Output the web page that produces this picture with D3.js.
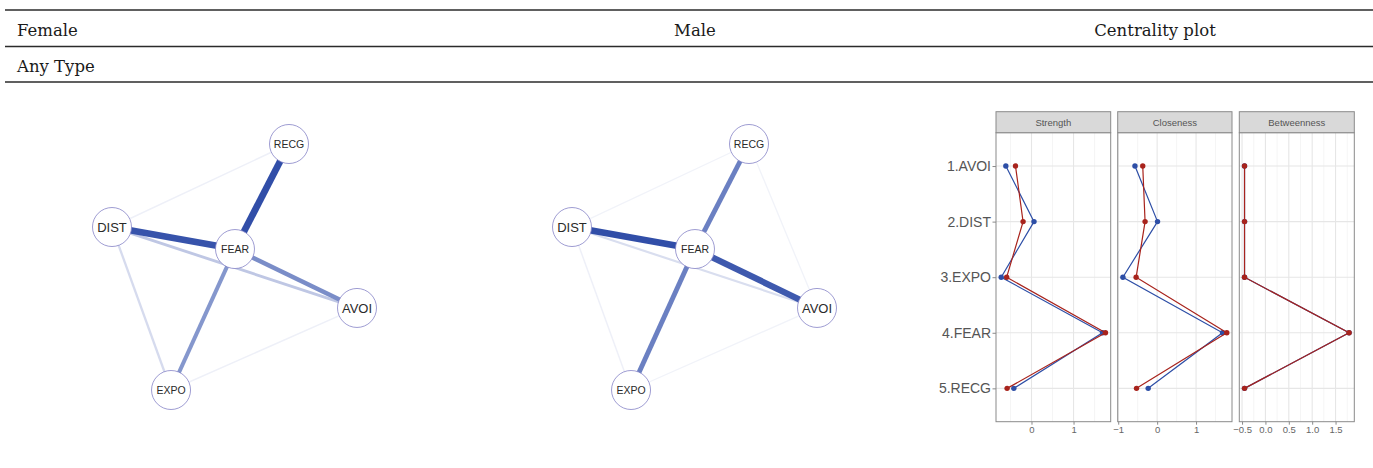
<!DOCTYPE html>
<html>
<head>
<meta charset="utf-8">
<script src="https://cdn.jsdelivr.net/npm/d3@7/dist/d3.min.js"></script>
<style>
  html, body { margin: 0; padding: 0; background: #fff; }
  svg { display: block; }
</style>
</head>
<body>
<svg id="chart" width="1373" height="468"></svg>
<script>
// ---------------- DATA ----------------
const headerColumns = ["Female", "Male", "Centrality plot"];
const rowLabel = "Any Type";

const nodes = ["RECG", "DIST", "FEAR", "AVOI", "EXPO"];
// edges: [from, to, weight 0..1]
const edgesFemale = [
  ["DIST", "RECG", 0.06],
  ["EXPO", "AVOI", 0.06],
  ["DIST", "EXPO", 0.2],
  ["DIST", "AVOI", 0.3],
  ["FEAR", "EXPO", 0.5],
  ["FEAR", "AVOI", 0.56],
  ["DIST", "FEAR", 0.92],
  ["FEAR", "RECG", 0.95]
];
const edgesMale = [
  ["DIST", "RECG", 0.04],
  ["RECG", "AVOI", 0.04],
  ["EXPO", "AVOI", 0.04],
  ["DIST", "EXPO", 0.06],
  ["DIST", "AVOI", 0.18],
  ["FEAR", "RECG", 0.64],
  ["FEAR", "EXPO", 0.64],
  ["FEAR", "AVOI", 0.88],
  ["DIST", "FEAR", 0.95]
];

const centralityNodes = ["1.AVOI", "2.DIST", "3.EXPO", "4.FEAR", "5.RECG"];
const measures = ["Strength", "Closeness", "Betweenness"];
const seriesNames = ["Female", "Male"];
// values per node (order of centralityNodes)
const strengthFemale    = [-0.61, 0.06, -0.72, 1.69, -0.42];
const strengthMale      = [-0.38, -0.20, -0.59, 1.76, -0.58];
const closenessFemale   = [-0.57, 0.01, -0.88, 1.68, -0.23];
const closenessMale     = [-0.37, -0.31, -0.54, 1.79, -0.53];
const betweennessFemale = [-0.447, -0.447, -0.447, 1.789, -0.447];
const betweennessMale   = [-0.447, -0.447, -0.447, 1.789, -0.447];

const xTicks = {
  Strength: [0, 1],
  Closeness: [-1, 0, 1],
  Betweenness: [-0.5, 0, 0.5, 1, 1.5]
};
const xMinorTicks = {
  Strength: [-0.5, 0.5, 1.5],
  Closeness: [-0.5, 0.5, 1.5],
  Betweenness: [-0.25, 0.25, 0.75, 1.25, 1.75]
};

// ---------------- LAYOUT / STYLE ----------------
// normalized node layout (qgraph style, -1..1)
const nodeLayout = {
  RECG: [0.445, 1.0],
  DIST: [-1.0, 0.325],
  FEAR: [0.004, 0.146],
  AVOI: [1.0, -0.333],
  EXPO: [-0.518, -1.0]
};
const nodeLabelSize = { RECG: 10.5, DIST: 13, FEAR: 10.5, AVOI: 13, EXPO: 10.5 };

const svg = d3.select("#chart");
const headFont = "'DejaVu Serif', serif";
const sansFont = "'Liberation Sans', Arial, sans-serif";

// ---------- header table ----------
[10, 46.5, 82].forEach(y => {
  svg.append("line").attr("x1", 5).attr("x2", 1373).attr("y1", y).attr("y2", y)
    .attr("stroke", "#2b2b2b").attr("stroke-width", 1.3);
});
const headerX = [17, 695, 1155];
const headerAnchor = ["start", "middle", "middle"];
headerColumns.forEach((t, i) => {
  svg.append("text").attr("x", headerX[i]).attr("y", 36)
    .attr("text-anchor", headerAnchor[i])
    .attr("font-family", headFont)
    .attr("font-size", 16.5).attr("fill", "#1a1a1a").text(t);
});
svg.append("text").attr("x", 17).attr("y", 71.5)
  .attr("font-family", headFont)
  .attr("font-size", 16.5).attr("fill", "#1a1a1a").text(rowLabel);

// ---------- networks ----------
const widthScale = d3.scaleLinear().domain([0, 1]).range([1.1, 7]);
const colorScale = d3.scaleLinear().domain([0, 0.25, 0.5, 1])
  .range(["#f8f9fc", "#cdd3ea", "#8597cd", "#2846a4"]);

function drawNetwork(edges, x0, x1, y0, y1) {
  const xs = d3.scaleLinear().domain([-1, 1]).range([x0, x1]);
  const ys = d3.scaleLinear().domain([-1, 1]).range([y1, y0]);
  const g = svg.append("g");
  const sorted = edges.slice().sort((a, b) => a[2] - b[2]);
  g.selectAll("line.edge").data(sorted).join("line")
    .attr("class", "edge")
    .attr("x1", d => xs(nodeLayout[d[0]][0]))
    .attr("y1", d => ys(nodeLayout[d[0]][1]))
    .attr("x2", d => xs(nodeLayout[d[1]][0]))
    .attr("y2", d => ys(nodeLayout[d[1]][1]))
    .attr("stroke", d => colorScale(d[2]))
    .attr("stroke-width", d => widthScale(d[2]))
    .attr("stroke-linecap", "butt");
  const ng = g.selectAll("g.node").data(nodes).join("g")
    .attr("transform", d => `translate(${xs(nodeLayout[d][0])},${ys(nodeLayout[d][1])})`);
  ng.append("circle").attr("r", 19.5).attr("fill", "#fff")
    .attr("stroke", "#8583c6").attr("stroke-width", 0.8);
  ng.append("text").attr("text-anchor", "middle").attr("dy", "0.36em")
    .attr("font-family", sansFont).attr("font-size", d => nodeLabelSize[d])
    .attr("fill", "#2a2a2a").text(d => d);
}
drawNetwork(edgesFemale, 112, 357, 144, 390);
drawNetwork(edgesMale, 572, 817, 144, 390);

// ---------- centrality plot ----------
const panelX = { Strength: [996, 1110.7], Closeness: [1117.7, 1232], Betweenness: [1239.3, 1354.3] };
const stripTop = 111.7, panelTop = 132.7, panelBottom = 421.7;
const seriesColors = ["#2d4ea6", "#a8231c"];
const dataByMeasure = {
  Strength: [strengthFemale, strengthMale],
  Closeness: [closenessFemale, closenessMale],
  Betweenness: [betweennessFemale, betweennessMale]
};
const yScale = d3.scalePoint().domain(centralityNodes)
  .range([panelTop, panelBottom]).padding(0.6);

measures.forEach(m => {
  const [px0, px1] = panelX[m];
  const all = dataByMeasure[m].flat();
  const mn = d3.min(all), mx = d3.max(all), pad = (mx - mn) * 0.05;
  const xs = d3.scaleLinear().domain([mn - pad, mx + pad]).range([px0, px1]);
  const g = svg.append("g");
  // minor grid
  g.selectAll("line.minor").data(xMinorTicks[m]).join("line")
    .attr("x1", d => xs(d)).attr("x2", d => xs(d))
    .attr("y1", panelTop).attr("y2", panelBottom)
    .attr("stroke", "#f2f2f2").attr("stroke-width", 0.8);
  // major grid
  g.selectAll("line.major").data(xTicks[m]).join("line")
    .attr("x1", d => xs(d)).attr("x2", d => xs(d))
    .attr("y1", panelTop).attr("y2", panelBottom)
    .attr("stroke", "#e6e6e6").attr("stroke-width", 1.1);
  g.selectAll("line.hgrid").data(centralityNodes).join("line")
    .attr("x1", px0).attr("x2", px1)
    .attr("y1", d => yScale(d)).attr("y2", d => yScale(d))
    .attr("stroke", "#e6e6e6").attr("stroke-width", 1.1);
  // series
  dataByMeasure[m].forEach((vals, si) => {
    const pts = vals.map((v, i) => [xs(v), yScale(centralityNodes[i])]);
    g.append("path").attr("d", d3.line()(pts)).attr("fill", "none")
      .attr("stroke", seriesColors[si]).attr("stroke-width", 1.2);
    g.selectAll(null).data(pts).join("circle")
      .attr("cx", d => d[0]).attr("cy", d => d[1]).attr("r", 2.7)
      .attr("fill", seriesColors[si]);
  });
  // panel border
  g.append("rect").attr("x", px0).attr("y", panelTop)
    .attr("width", px1 - px0).attr("height", panelBottom - panelTop)
    .attr("fill", "none").attr("stroke", "#8a8a8a").attr("stroke-width", 1);
  // strip
  g.append("rect").attr("x", px0).attr("y", stripTop)
    .attr("width", px1 - px0).attr("height", panelTop - stripTop)
    .attr("fill", "#d9d9d9").attr("stroke", "#8a8a8a").attr("stroke-width", 1);
  g.append("text").attr("x", (px0 + px1) / 2).attr("y", (stripTop + panelTop) / 2)
    .attr("dy", "0.35em").attr("text-anchor", "middle")
    .attr("font-family", sansFont).attr("font-size", 9.5).attr("fill", "#555").text(m);
  // x axis
  const axis = d3.axisBottom(xs).tickValues(xTicks[m]).tickSize(3).tickPadding(2)
    .tickFormat(m === "Betweenness" ? d3.format(".1f") : d3.format("d"));
  const ag = g.append("g").attr("transform", `translate(0,${panelBottom})`).call(axis);
  ag.select(".domain").remove();
  ag.selectAll(".tick line").attr("stroke", "#8a8a8a");
  ag.selectAll(".tick text").attr("font-family", sansFont).attr("font-size", 9.5)
    .attr("fill", "#666");
});
// y axis
const yAxis = d3.axisLeft(yScale).tickSize(3.5).tickPadding(1.5);
const yg = svg.append("g").attr("transform", `translate(${panelX.Strength[0]},0)`).call(yAxis);
yg.select(".domain").remove();
yg.selectAll(".tick line").attr("stroke", "#8a8a8a");
yg.selectAll(".tick text").attr("font-family", sansFont).attr("font-size", 14)
  .attr("fill", "#555");
</script>
</body>
</html>
